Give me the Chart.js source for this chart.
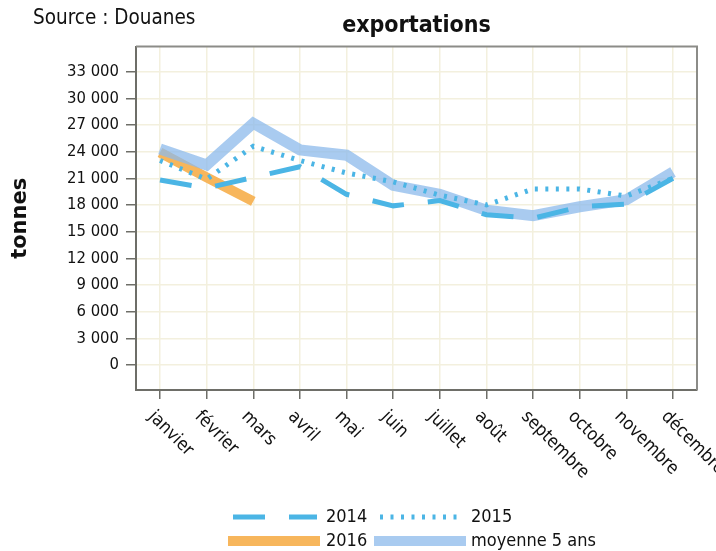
<!DOCTYPE html>
<html>
<head>
<meta charset="utf-8">
<script src="https://cdn.jsdelivr.net/npm/chart.js@4.4.0/dist/chart.umd.min.js"></script>
<style>
	html, body { margin: 0; padding: 0; background: #fff; }
</style>
</head>
<body>
<canvas id="chart" width="716" height="551"></canvas>
<script>
	var months = ['janvier', 'février', 'mars', 'avril', 'mai', 'juin', 'juillet', 'août', 'septembre', 'octobre', 'novembre', 'décembre'];
	var yTicks = [0, 3000, 6000, 9000, 12000, 15000, 18000, 21000, 24000, 27000, 30000, 33000];
	var v2014 = [20800, 19900, 21100, 22300, 19200, 17900, 18500, 16900, 16500, 17800, 18100, 21000];
	var v2015 = [23000, 20900, 24600, 23000, 21600, 20600, 19100, 18000, 19800, 19800, 19000, 21000];
	var v2016 = [23900, 21100, 18400];
	var vMoyenne = [24300, 22500, 27200, 24200, 23600, 20200, 19200, 17400, 16800, 17800, 18600, 21700];

	var FONT = "'DejaVu Sans Condensed', 'DejaVu Sans', sans-serif";
	var FONT_WIDE = "'DejaVu Sans', sans-serif";
	var INK = '#111111';
	var AXIS = '#6e6e68';

	function points(arr) {
		return arr.map(function (v, i) { return { x: i, y: v }; });
	}

	function frenchNumber(v) {
		return String(v).replace(/\B(?=(\d{3})+(?!\d))/g, ' ');
	}

	// Source text top-left
	var sourcePlugin = {
		id: 'sourceText',
		afterDraw: function (chart) {
			var ctx = chart.ctx;
			ctx.save();
			ctx.font = '20.5px ' + FONT;
			ctx.fillStyle = INK;
			ctx.textBaseline = 'middle';
			ctx.textAlign = 'left';
			ctx.fillText('Source : Douanes', 33, 19);
			ctx.restore();
		}
	};

	// Top and right sides of the frame
	var framePlugin = {
		id: 'frame',
		afterDraw: function (chart) {
			var a = chart.chartArea, ctx = chart.ctx;
			ctx.save();
			ctx.strokeStyle = '#8c8c88';
			ctx.lineWidth = 2;
			ctx.beginPath();
			ctx.moveTo(a.left, a.top);
			ctx.lineTo(a.right, a.top);
			ctx.lineTo(a.right, a.bottom);
			ctx.stroke();
			ctx.restore();
		}
	};

	// Month labels, rotated clockwise, starting at the tick
	var monthLabelPlugin = {
		id: 'monthLabels',
		afterDraw: function (chart) {
			var xs = chart.scales.x, ctx = chart.ctx;
			ctx.save();
			ctx.font = '18px ' + FONT;
			ctx.fillStyle = INK;
			ctx.textAlign = 'left';
			ctx.textBaseline = 'middle';
			xs.ticks.forEach(function (t) {
				var label = months[t.value];
				if (label === undefined) return;
				var px = xs.getPixelForValue(t.value);
				ctx.save();
				ctx.translate(px - 9, xs.top + 24);
				ctx.rotate(Math.PI / 4);
				ctx.fillText(label, 0, 0);
				ctx.restore();
			});
			ctx.restore();
		}
	};

	// Two-column legend under the chart
	var legendSlots = [
		{ x0: 233, x1: 317, tx: 326, y: 517 },
		{ x0: 380, x1: 460, tx: 471, y: 517 },
		{ x0: 228, x1: 320, tx: 326, y: 541 },
		{ x0: 374, x1: 466, tx: 471, y: 541 }
	];
	var legendWidths = [5, 5, 10, 10];
	var legendPlugin = {
		id: 'legendGrid',
		afterDraw: function (chart) {
			var ctx = chart.ctx;
			chart.data.datasets.forEach(function (ds, i) {
				var s = legendSlots[i];
				ctx.save();
				ctx.strokeStyle = ds.borderColor;
				ctx.lineWidth = legendWidths[i];
				ctx.setLineDash(ds.borderDash || []);
				ctx.beginPath();
				ctx.moveTo(s.x0, s.y);
				ctx.lineTo(s.x1, s.y);
				ctx.stroke();
				ctx.setLineDash([]);
				ctx.font = '18px ' + FONT;
				ctx.fillStyle = INK;
				ctx.textBaseline = 'middle';
				ctx.textAlign = 'left';
				ctx.fillText(ds.label, s.tx, s.y);
				ctx.restore();
			});
		}
	};

	var ctx = document.getElementById('chart').getContext('2d');
	var chart = new Chart(ctx, {
		type: 'line',
		data: {
			datasets: [
				{
					label: '2014',
					data: points(v2014),
					borderColor: '#4bb5e5',
					borderWidth: 5,
					borderDash: [32, 24],
					order: 0
				},
				{
					label: '2015',
					data: points(v2015),
					borderColor: '#4bb5e5',
					borderWidth: 5,
					borderDash: [3, 7.5],
					order: 1
				},
				{
					label: '2016',
					data: points(v2016),
					borderColor: '#f7b65c',
					borderWidth: 10,
					order: 3
				},
				{
					label: 'moyenne 5 ans',
					data: points(vMoyenne),
					borderColor: 'rgba(140, 185, 235, 0.75)',
					borderWidth: 11,
					order: 2
				}
			]
		},
		options: {
			responsive: false,
			animation: false,
			layout: { padding: { left: 0, right: 19, top: 0, bottom: 0 } },
			elements: {
				point: { radius: 0, hoverRadius: 0 },
				line: { tension: 0, borderCapStyle: 'butt', borderJoinStyle: 'miter' }
			},
			plugins: {
				legend: { display: false },
				tooltip: { enabled: false },
				title: {
					display: true,
					text: 'exportations',
					fullSize: false,
					color: INK,
					font: { family: FONT, size: 23, weight: 'bold' },
					padding: { top: 12, bottom: 7 }
				}
			},
			scales: {
				x: {
					type: 'linear',
					min: -0.515,
					max: 11.515,
					afterFit: function (scale) { scale.height = 161; },
					ticks: { stepSize: 1, includeBounds: false, display: false },
					grid: { color: '#f3f0de', lineWidth: 1.5, tickLength: 9, tickColor: AXIS, tickWidth: 1.5 },
					border: { color: AXIS, width: 2 }
				},
				y: {
					min: -2813,
					max: 35813,
					afterFit: function (scale) { scale.width = 136; },
					afterBuildTicks: function (scale) {
						scale.ticks = yTicks.map(function (v) { return { value: v }; });
					},
					ticks: {
						includeBounds: false,
						color: INK,
						padding: 7,
						font: { family: FONT, size: 16.5 },
						callback: function (v) { return frenchNumber(v); }
					},
					grid: { color: '#f3f0de', lineWidth: 1.5, tickLength: 10, tickColor: AXIS, tickWidth: 1.5 },
					border: { color: AXIS, width: 2 },
					title: {
						display: true,
						text: 'tonnes',
						color: INK,
						font: { family: FONT_WIDE, size: 21, weight: 'bold' },
						padding: { top: 8, bottom: 0 }
					}
				}
			}
		},
		plugins: [sourcePlugin, framePlugin, monthLabelPlugin, legendPlugin]
	});
</script>
</body>
</html>
